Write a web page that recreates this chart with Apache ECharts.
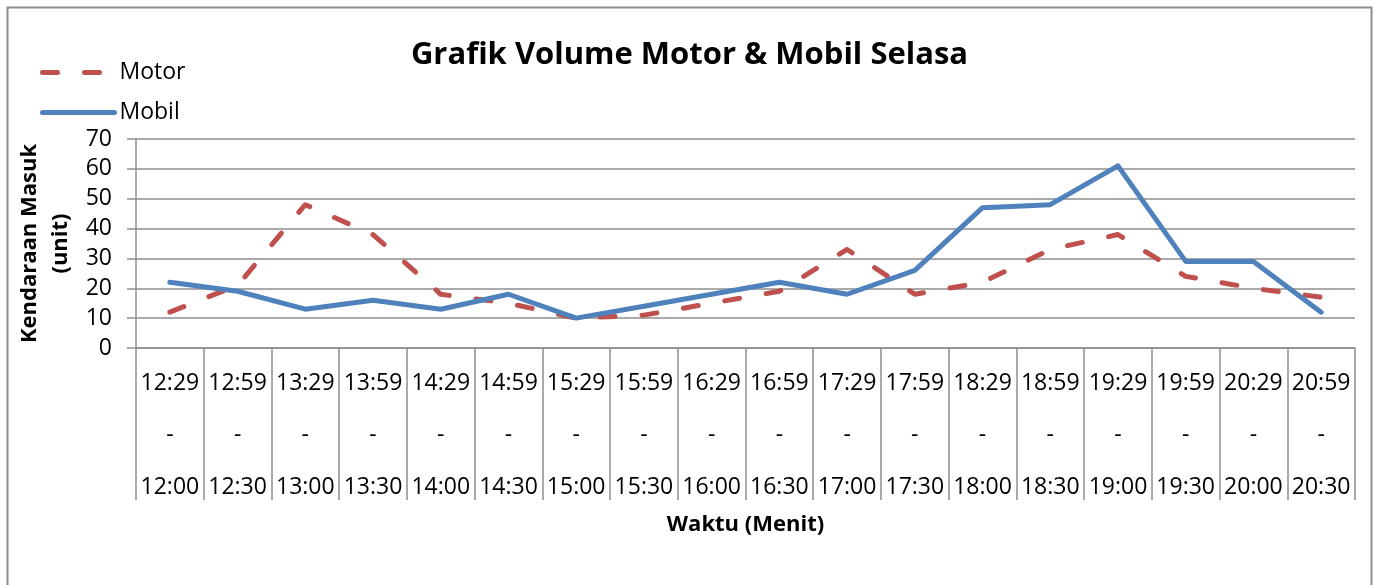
<!DOCTYPE html>
<html>
<head>
<meta charset="utf-8">
<script src="https://cdn.jsdelivr.net/npm/echarts@6/dist/echarts.min.js"></script>
<style>
  html, body { margin: 0; padding: 0; background: #fff; }
  #main { width: 1379px; height: 585px; }
</style>
</head>
<body>
<div id="main"></div>
<script>
var startTimes = ['12:00', '12:30', '13:00', '13:30', '14:00', '14:30', '15:00', '15:30', '16:00',
                  '16:30', '17:00', '17:30', '18:00', '18:30', '19:00', '19:30', '20:00', '20:30'];
var endTimes = ['12:29', '12:59', '13:29', '13:59', '14:29', '14:59', '15:29', '15:59', '16:29',
                '16:59', '17:29', '17:59', '18:29', '18:59', '19:29', '19:59', '20:29', '20:59'];
var motor = [12, 21, 48, 38, 18, 15, 10, 11, 15, 19, 33, 18, 22, 33, 38, 24, 20, 17];
var mobil = [22, 19, 13, 16, 13, 18, 10, 14, 18, 22, 18, 26, 47, 48, 61, 29, 29, 12];
var yTicks = [0, 70, 10]; // min, max, step

var categories = endTimes.map(function (e, i) { return e + '\n-\n' + startTimes[i]; });

var font = '"Open Sans", "Liberation Sans", sans-serif';
var gray = '#8e8e8e';

var myChart = echarts.init(document.getElementById('main'));

var option = {
    backgroundColor: '#fff',
    animation: false,
    graphic: [{
        type: 'rect',
        shape: { x: 7.5, y: 7.5, width: 1364, height: 600 },
        style: { fill: 'none', stroke: gray, lineWidth: 2 },
        silent: true
    }],
    title: {
        text: 'Grafik Volume Motor & Mobil Selasa',
        left: 'center',
        top: 35,
        textStyle: { fontFamily: font, fontSize: 31, fontWeight: 'bold', color: '#000' }
    },
    legend: {
        orient: 'vertical',
        left: 35,
        top: 56,
        itemWidth: 72,
        itemHeight: 12,
        itemGap: 17,
        itemStyle: { opacity: 0 },
        lineStyle: { width: 5, cap: 'round' },
        textStyle: { fontFamily: font, fontSize: 23, color: '#000' },
        data: ['Motor', 'Mobil']
    },
    grid: { left: 136, right: 24, top: 139, bottom: 237 },
    xAxis: {
        type: 'category',
        boundaryGap: true,
        data: categories,
        name: 'Waktu (Menit)',
        nameLocation: 'middle',
        nameGap: 165,
        nameTextStyle: { fontFamily: font, fontSize: 22, fontWeight: 'bold', color: '#000' },
        axisLine: { lineStyle: { color: gray, width: 1.5 } },
        axisTick: { show: true, length: 152, alignWithLabel: false, lineStyle: { color: gray, width: 1.5 } },
        axisLabel: {
            interval: 0,
            margin: 9,
            fontFamily: font,
            fontSize: 23,
            lineHeight: 52,
            color: '#000'
        }
    },
    yAxis: {
        type: 'value',
        min: yTicks[0],
        max: yTicks[1],
        interval: yTicks[2],
        name: 'Kendaraan Masuk\n(unit)',
        nameLocation: 'middle',
        nameGap: 60,
        nameMoveOverlap: false,
        nameTextStyle: { fontFamily: font, fontSize: 22, fontWeight: 'bold', color: '#000', lineHeight: 31 },
        axisLine: { show: true, lineStyle: { color: gray, width: 1.5 } },
        axisTick: { show: true, length: 9, lineStyle: { color: gray, width: 1.5 } },
        axisLabel: { margin: 24, fontFamily: font, fontSize: 23, color: '#000' },
        splitLine: { show: true, lineStyle: { color: gray, width: 1.5 } }
    },
    series: [
        {
            name: 'Motor',
            type: 'line',
            data: motor,
            symbol: 'none',
            itemStyle: { color: '#C0504D' },
            lineStyle: { color: '#C0504D', width: 5, type: [15, 27], cap: 'round', join: 'round' }
        },
        {
            name: 'Mobil',
            type: 'line',
            data: mobil,
            symbol: 'none',
            itemStyle: { color: '#4F81BD' },
            lineStyle: { color: '#4F81BD', width: 5, cap: 'round', join: 'round' }
        }
    ]
};

myChart.setOption(option);
</script>
</body>
</html>
